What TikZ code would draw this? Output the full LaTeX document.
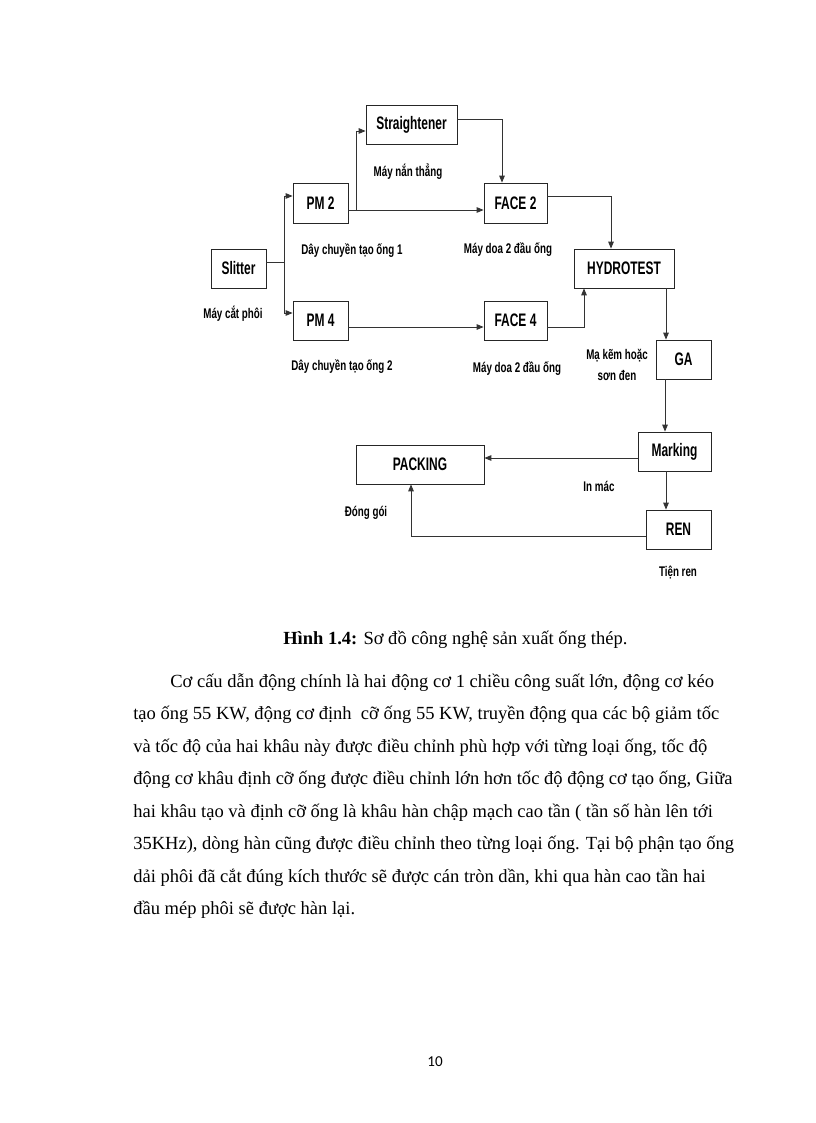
\documentclass[tikz,border=0pt]{standalone}
\usepackage{fontspec}
\setmainfont{Liberation Serif}
\newfontfamily\diagfont[FakeStretch=0.7]{Liberation Sans}
\newfontfamily\boxfont[FakeStretch=0.66]{Liberation Sans}
\newfontfamily\numfont{Carlito}
\usetikzlibrary{arrows.meta}
\begin{document}
\begin{tikzpicture}[x=0.729pt,y=-0.729pt,
  box/.style={draw=black!85,line width=0.6pt,inner sep=0pt,font=\boxfont\bfseries\fontsize{13.2}{15}\selectfont},
  lbl/.style={inner sep=0pt,align=center,font=\diagfont\bfseries\fontsize{10.2}{15}\selectfont},
  conn/.style={draw=black!80,line width=0.6pt,-{Triangle[length=5pt,width=4pt]}},
  line/.style={draw=black!80,line width=0.6pt},
  body/.style={inner sep=0pt,anchor=base west,font=\fontsize{13.5}{16}\selectfont}]
\useasboundingbox[fill=white] (0,0) rectangle (816,1123);
% boxes
\node[box,minimum width=55*0.729pt,minimum height=39*0.729pt] (slit) at (238.5,268.5) {Slitter};
\node[box,minimum width=55*0.729pt,minimum height=40*0.729pt] (pm2) at (320.5,203) {PM 2};
\node[box,minimum width=91*0.729pt,minimum height=39*0.729pt] (str) at (411.5,124.5) {Straightener};
\node[box,minimum width=63*0.729pt,minimum height=40*0.729pt] (f2) at (515.5,203) {FACE 2};
\node[box,minimum width=55*0.729pt,minimum height=39*0.729pt] (pm4) at (320.5,320.5) {PM 4};
\node[box,minimum width=63*0.729pt,minimum height=39*0.729pt] (f4) at (515.5,320.5) {FACE 4};
\node[box,minimum width=100*0.729pt,minimum height=39*0.729pt] (hyd) at (624,268.5) {HYDROTEST};
\node[box,minimum width=55*0.729pt,minimum height=39*0.729pt] (ga) at (683.5,359.5) {GA};
\node[box,minimum width=73*0.729pt,minimum height=39*0.729pt] (mark) at (674.5,451.5) {Marking};
\node[box,minimum width=128*0.729pt,minimum height=39*0.729pt] (pack) at (420,464.5) {PACKING};
\node[box,minimum width=65*0.729pt,minimum height=39*0.729pt] (ren) at (678.5,529.5) {REN};
% junction coordinates
\coordinate (j1) at (284,262);
\coordinate (j2) at (356,210);
\coordinate (c1) at (284,196);
\coordinate (c2) at (284,313);
\coordinate (c3) at (356,131);
\coordinate (c4) at (502,119);
\coordinate (c5) at (611,196);
\coordinate (c6) at (584,327);
\coordinate (c7) at (666,0);
\coordinate (c8) at (665,0);
\coordinate (c9) at (0,458);
\coordinate (c10) at (411,536);
% connectors
\draw[line] (slit.east |- j1) -- (j1);
\draw[conn] (j1) -- (c1) -- (pm2.west |- c1);
\draw[conn] (j1) -- (c2) -- (pm4.west |- c2);
\draw[conn] (pm2.east |- j2) -- (f2.west |- j2);
\draw[conn] (j2) -- (c3) -- (str.west |- c3);
\draw[conn] (str.east |- c4) -- (c4) -- (c4 |- f2.north);
\draw[conn] (f2.east |- c5) -- (c5) -- (c5 |- hyd.north);
\draw[conn] (pm4.east |- c6) -- (f4.west |- c6);
\draw[conn] (f4.east |- c6) -- (c6) -- (c6 |- hyd.south);
\draw[conn] (c7 |- hyd.south) -- (c7 |- ga.north);
\draw[conn] (c8 |- ga.south) -- (c8 |- mark.north);
\draw[conn] (mark.west |- c9) -- (pack.east |- c9);
\draw[conn] (c7 |- mark.south) -- (c7 |- ren.north);
\draw[conn] (ren.west |- c10) -- (c10) -- (c10 |- pack.south);
% labels
\node[lbl] (l1) at (408,172) {Máy nắn thẳng};
\node[lbl] (l2) at (352,251) {Dây chuyền tạo ống 1};
\node[lbl] (l3) at (508,250) {Máy doa 2 đầu ống};
\node[lbl] (l4) at (233,314) {Máy cắt phôi};
\node[lbl] (l5) at (342,367) {Dây chuyền tạo ống 2};
\node[lbl] (l6) at (517,369) {Máy doa 2 đầu ống};
\node[lbl] (l7) at (617,365) {Mạ kẽm hoặc\\sơn đen};
\node[lbl] (l8) at (599,486) {In mác};
\node[lbl] (l9) at (366,513) {Đóng gói};
\node[lbl] (l10) at (678,573) {Tiện ren};
% caption and body
\node[body] (cap) at (283,644) {\textbf{Hình 1.4:} Sơ đồ công nghệ sản xuất ống thép.};
\node[body] (p1) at (170,687) {Cơ cấu dẫn động chính là hai động cơ 1 chiều công suất lớn, động cơ kéo};
\node[body] (p2) at (133,719.5) {tạo ống 55 KW, động cơ định\ \ cỡ ống 55 KW, truyền động qua các bộ giảm tốc};
\node[body] (p3) at (133,752) {và tốc độ của hai khâu này được điều chỉnh phù hợp với từng loại ống, tốc độ};
\node[body] (p4) at (133,784.5) {động cơ khâu định cỡ ống được điều chỉnh lớn hơn tốc độ động cơ tạo ống, Giữa};
\node[body] (p5) at (133,817) {hai khâu tạo và định cỡ ống là khâu hàn chập mạch cao tần ( tần số hàn lên tới};
\node[body] (p6) at (133,849.5) {35KHz), dòng hàn cũng được điều chỉnh theo từng loại ống. Tại bộ phận tạo ống};
\node[body] (p7) at (133,882) {dải phôi đã cắt đúng kích thước sẽ được cán tròn dần, khi qua hàn cao tần hai};
\node[body] (p8) at (133,914.5) {đầu mép phôi sẽ được hàn lại.};
\node[inner sep=0pt,font=\numfont\fontsize{11}{13}\selectfont] (pg) at (435,1062) {10};
\end{tikzpicture}
\end{document}
